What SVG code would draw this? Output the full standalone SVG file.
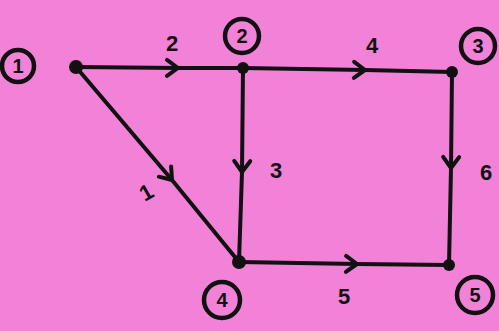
<svg xmlns="http://www.w3.org/2000/svg" width="499" height="331" viewBox="0 0 499 331">
<defs>
<marker id="chev" markerUnits="userSpaceOnUse" markerWidth="30" markerHeight="30" viewBox="-15 -15 30 30" refX="0" refY="0" orient="auto">
<path d="M-11,-8 L0,0 L-11,8" fill="none" stroke="#111" stroke-width="4" stroke-linecap="round" stroke-linejoin="round"/>
</marker>
<style>
.e{fill:none;stroke:#111;stroke-width:4;stroke-linecap:round;marker-mid:url(#chev)}
.dot{fill:#111}
.ring{fill:none;stroke:#111;stroke-width:4.5}
.t{font-family:"Liberation Sans",Arial,sans-serif;font-weight:bold;font-size:22px;fill:#111;text-anchor:middle}
.n{font-family:"Liberation Sans",Arial,sans-serif;font-weight:bold;font-size:20px;fill:#111;text-anchor:middle}
</style>
</defs>
<rect width="499" height="331" fill="#f282d8"/>
<g id="edges">
<path class="e" d="M76,67 L178,68 L243,68"/>
<path class="e" d="M243,68 L365,70 L452,72"/>
<path class="e" d="M243,68 L242,172 L239,262"/>
<path class="e" d="M76,67 L172,180 L239,262"/>
<path class="e" d="M452,72 L451,168 L449,265"/>
<path class="e" d="M239,262 L357,264 L449,265"/>
<text class="t" x="172" y="51">2</text>
<text class="t" x="372" y="53">4</text>
<text class="t" x="276" y="178">3</text>
<text class="t" x="146" y="200" transform="rotate(-30 146 192)">1</text>
<text class="t" x="486" y="180">6</text>
<text class="t" x="344" y="304">5</text>
</g>
<g id="node1"><circle class="dot" cx="76" cy="67" r="7"/><circle class="ring" cx="18" cy="66" r="16"/><text class="n" x="18" y="73">1</text></g>
<g id="node2"><circle class="dot" cx="243" cy="68" r="6"/><circle class="ring" cx="242" cy="36" r="17"/><text class="n" x="242" y="43">2</text></g>
<g id="node3"><circle class="dot" cx="452" cy="72" r="6"/><circle class="ring" cx="478" cy="46" r="17"/><text class="n" x="478" y="53">3</text></g>
<g id="node4"><circle class="dot" cx="239" cy="262" r="7"/><circle class="ring" cx="222" cy="300" r="18"/><text class="n" x="222" y="307">4</text></g>
<g id="node5"><circle class="dot" cx="449" cy="265" r="6"/><circle class="ring" cx="475" cy="295" r="18"/><text class="n" x="475" y="302">5</text></g>
</svg>
